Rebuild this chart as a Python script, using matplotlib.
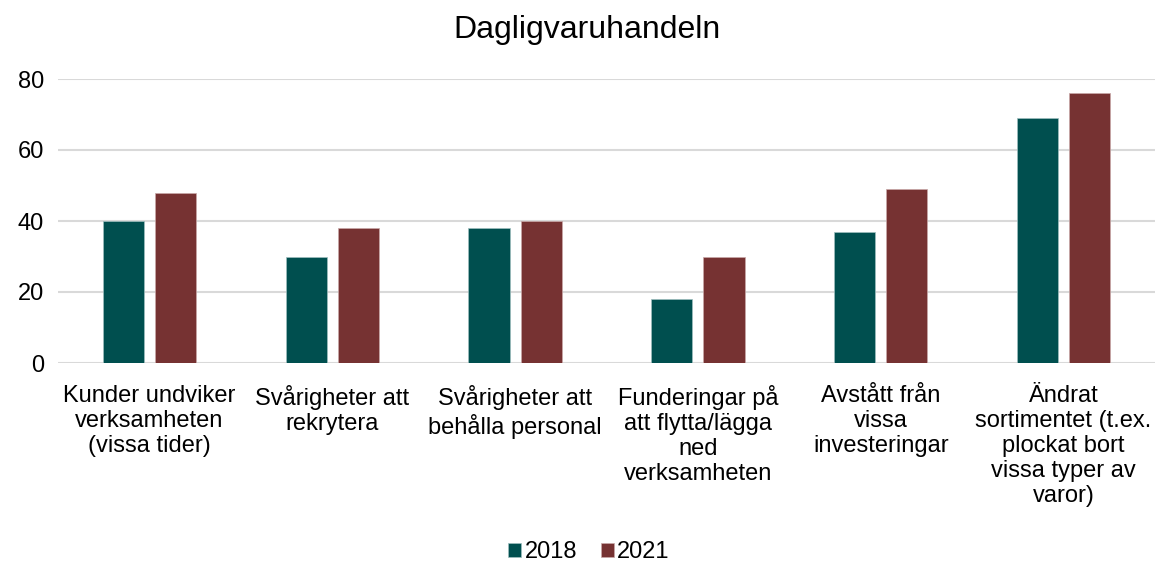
import numpy as np
import matplotlib.pyplot as plt

plt.rcParams['font.family'] = ['Liberation Sans', 'DejaVu Sans']

categories = [
    "Kunder undviker\nverksamheten\n(vissa tider)",
    "Svårigheter att\nrekrytera",
    "Svårigheter att\nbehålla personal",
    "Funderingar på\natt flytta/lägga\nned\nverksamheten",
    "Avstått från\nvissa\ninvesteringar",
    "Ändrat\nsortimentet (t.ex.\nplockat bort\nvissa typer av\nvaror)",
]
vals_2018 = [40, 30, 38, 18, 37, 69]
vals_2021 = [48, 38, 40, 30, 49, 76]
years = ["2018", "2021"]
colors = ["#004F4F", "#763232"]

fig = plt.figure(figsize=(11.55, 5.63), dpi=100)
ax = fig.add_axes([58 / 1155, 1 - 363 / 563, 1 - 58 / 1155, (363 - 79) / 563])

x = np.arange(len(categories))
w = 0.225
off = w / 2 + 0.03
ax.bar(x - off, vals_2018, w, color=colors[0], label=years[0], edgecolor="#9fbfbf", linewidth=0.5, zorder=3)
ax.bar(x + off, vals_2021, w, color=colors[1], label=years[1], edgecolor="#c9a8a8", linewidth=0.5, zorder=3)

ax.set_xlim(-0.5, len(categories) - 0.5)
ax.set_ylim(0, 80)
ax.set_yticks([0, 20, 40, 60, 80])
ax.yaxis.grid(True, color="#D9D9D9", linewidth=1.5, zorder=0)
ax.set_axisbelow(True)
for s in ax.spines.values():
    s.set_visible(False)
ax.tick_params(axis="both", length=0, labelsize=17, colors="black")
ax.tick_params(axis="y", pad=10)
ax.tick_params(axis="x", pad=16)
ax.set_xticks(x)
ax.set_xticklabels(categories, fontsize=17, linespacing=1.17, va="top")

fig.text(0.508, 0.947, "Dagligvaruhandeln", ha="center", va="center", fontsize=23)

ax.legend(loc="center", bbox_to_anchor=(0.484, (363 - 552) / (363 - 79)), bbox_transform=ax.transAxes,
          ncol=2, frameon=False, fontsize=17, handlelength=0.55, handleheight=0.55,
          handletextpad=0.15, columnspacing=1.0)

fig.savefig("out.png", dpi=100)
